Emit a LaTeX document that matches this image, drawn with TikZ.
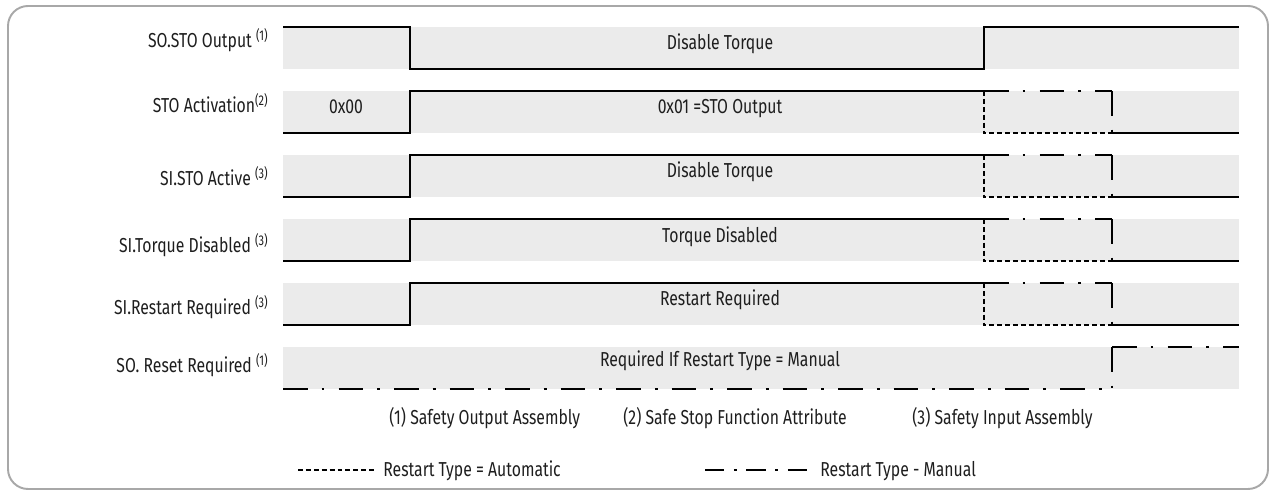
\documentclass[tikz,border=0pt]{standalone}
\usepackage{fontspec}
\setmainfont{Fira Sans}[FakeStretch=0.78]
\usepackage{tikz}

\definecolor{bandgray}{HTML}{EBEBEB}
\definecolor{framegray}{HTML}{A8A8A8}
\definecolor{inkgray}{HTML}{1E1E1E}

\tikzset{
  wave/.style={line width=1.6pt, line join=miter},
  autowave/.style={wave, dash pattern=on 2.8pt off 1.7pt},
  manwave/.style={wave, dash pattern=on 14pt off 8pt on 1.6pt off 8pt},
  keywave/.style={wave, line width=1.4pt, dash pattern=on 11pt off 5.5pt on 1.6pt off 5.5pt},
  sig/.style={anchor=base east, text=inkgray, inner sep=0pt},
  lvl/.style={anchor=base, text=inkgray, inner sep=0pt},
  note/.style={anchor=base west, text=inkgray, inner sep=0pt}
}

\begin{document}
\begin{tikzpicture}[x=0.02cm,y=-0.02cm,font=\fontsize{11.5}{13}\selectfont]
\def\xL{283}
\def\xR{1239}
\def\tA{410}
\def\tB{984}
\def\tC{1112}
\def\ht{42}

\useasboundingbox (0,0) rectangle (1276,492);
\draw[framegray, line width=1.1pt, rounded corners=0.4cm] (8,6) rectangle (1268,489);

% grey bands
\fill[bandgray] (\xL,27) rectangle +(956,\ht);
\fill[bandgray] (\xL,91) rectangle +(956,\ht);
\fill[bandgray] (\xL,155) rectangle +(956,\ht);
\fill[bandgray] (\xL,219) rectangle +(956,\ht);
\fill[bandgray] (\xL,283) rectangle +(956,\ht);
\fill[bandgray] (\xL,347) rectangle +(956,\ht);

% signal names
\node[sig] (sig1) at (269,48) {SO.STO Output \textsuperscript{(1)}};
\node[sig] (sig2) at (269,113) {STO Activation\textsuperscript{(2)}};
\node[sig] (sig3) at (269,186) {SI.STO Active \textsuperscript{(3)}};
\node[sig] (sig4) at (269,253) {SI.Torque Disabled \textsuperscript{(3)}};
\node[sig] (sig5) at (269,315) {SI.Restart Required \textsuperscript{(3)}};
\node[sig] (sig6) at (269,373) {SO. Reset Required \textsuperscript{(1)}};

% SO.STO Output
\draw[wave] (\xL,27) -- (\tA,27) -- (\tA,69) -- (\tB,69) -- (\tB,27) -- (\xR,27);
\node[lvl] (lvl1) at (720,50) {Disable Torque};

% STO Activation
\draw[wave] (\xL,133) -- (\tA,133) -- (\tA,91) -- (\tB,91);
\draw[manwave] (\tB,91) -- (\tC,91);
\draw[manwave] (\tC,91) -- (\tC,133);
\draw[autowave] (\tB,91) -- (\tB,133) -- (\tC,133);
\draw[wave] (\tC,133) -- (\xR,133);
\node[lvl] (hexlow) at (346,114) {0x00};
\node[lvl] (lvl2) at (720,114) {0x01 =STO Output};

% SI.STO Active
\draw[wave] (\xL,197) -- (\tA,197) -- (\tA,155) -- (\tB,155);
\draw[manwave] (\tB,155) -- (\tC,155);
\draw[manwave] (\tC,155) -- (\tC,197);
\draw[autowave] (\tB,155) -- (\tB,197) -- (\tC,197);
\draw[wave] (\tC,197) -- (\xR,197);
\node[lvl] (lvl3) at (720,178) {Disable Torque};

% SI.Torque Disabled
\draw[wave] (\xL,261) -- (\tA,261) -- (\tA,219) -- (\tB,219);
\draw[manwave] (\tB,219) -- (\tC,219);
\draw[manwave] (\tC,219) -- (\tC,261);
\draw[autowave] (\tB,219) -- (\tB,261) -- (\tC,261);
\draw[wave] (\tC,261) -- (\xR,261);
\node[lvl] (lvl4) at (720,243) {Torque Disabled};

% SI.Restart Required
\draw[wave] (\xL,325) -- (\tA,325) -- (\tA,283) -- (\tB,283);
\draw[manwave] (\tB,283) -- (\tC,283);
\draw[manwave] (\tC,283) -- (\tC,325);
\draw[autowave] (\tB,283) -- (\tB,325) -- (\tC,325);
\draw[wave] (\tC,325) -- (\xR,325);
\node[lvl] (lvl5) at (720,306) {Restart Required};

% SO. Reset Required
\draw[manwave] (\xL,389) -- (\tC,389);
\draw[manwave] (\tC,347) -- (\tC,389);
\draw[manwave] (\tC,347) -- (\xR,347);
\node[lvl] (lvl6) at (720,367) {Required If Restart Type = Manual};

% notes
\node[note] (note1) at (389,425) {(1) Safety Output Assembly};
\node[note] (note2) at (623,425) {(2) Safe Stop Function Attribute};
\node[note] (note3) at (912,425) {(3) Safety Input Assembly};

% legend
\coordinate (autostart) at (298,470);
\coordinate (autoend) at (376,470);
\draw[autowave, line width=1.4pt] (autostart) -- (autoend);
\node[note] (keyauto) at (383,477) {Restart Type = Automatic};
\coordinate (manstart) at (705,470);
\coordinate (manend) at (810,470);
\draw[keywave] (manstart) -- (manend);
\node[note] (keyman) at (820,477) {Restart Type - Manual};
\end{tikzpicture}
\end{document}
